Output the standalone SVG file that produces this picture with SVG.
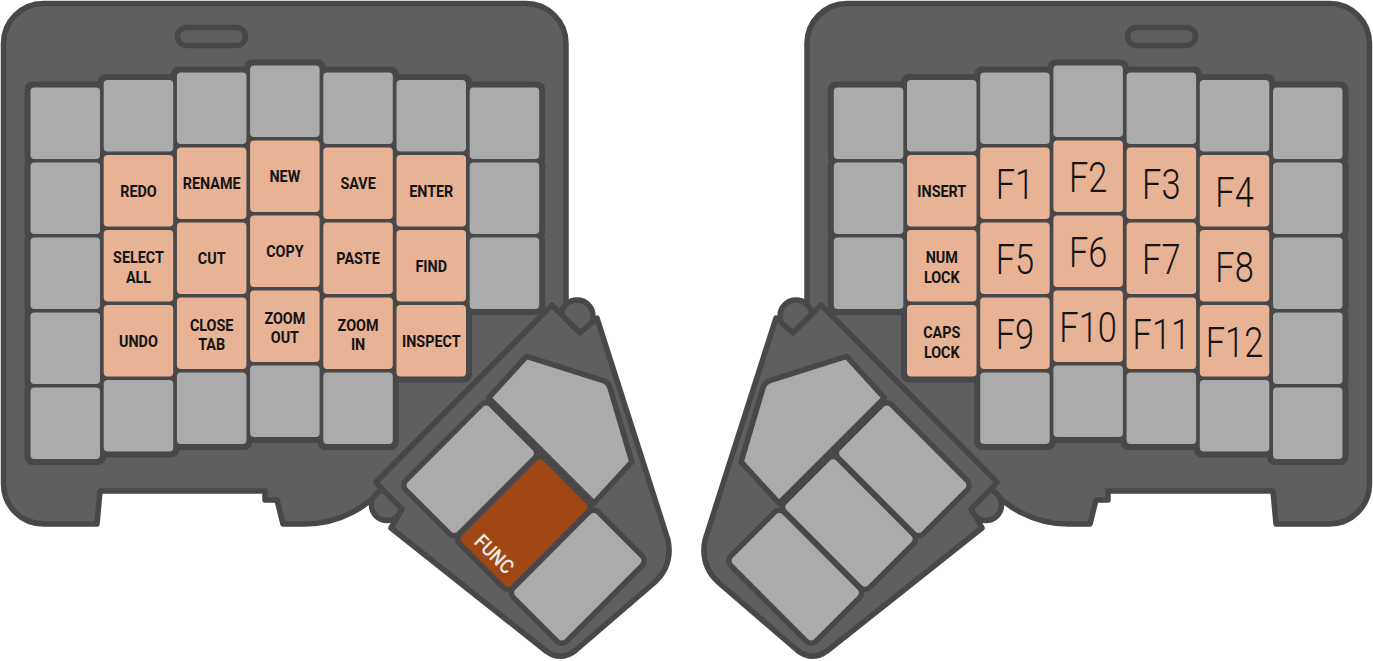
<svg xmlns="http://www.w3.org/2000/svg" xmlns:xlink="http://www.w3.org/1999/xlink" width="1373" height="661" viewBox="0 0 1373 661">
<style>
.case{fill:#5f5f5f;stroke:#484848;stroke-width:5.5;stroke-linejoin:round}
.pl{fill:#484848}
.k{fill:#ababab}
.o{fill:#e8b294}
.tk{fill:#ababab;stroke:#484848;stroke-width:5.5;stroke-linejoin:round}
.fk{fill:#9f4715;stroke:#484848;stroke-width:5.5;stroke-linejoin:round}
.t{font-family:Roboto,'Liberation Sans',sans-serif;font-weight:700;font-size:16.5px;text-anchor:middle;fill:#141414;transform-box:fill-box;transform-origin:center;transform:scaleX(0.87)}
.f{font-family:Roboto,'Liberation Sans',sans-serif;font-weight:300;font-size:42px;text-anchor:middle;fill:#141414;transform-box:fill-box;transform-origin:center;transform:scaleX(0.82)}
.fn{font-family:Roboto,'Liberation Sans',sans-serif;font-weight:500;font-size:20px;text-anchor:middle;fill:#ececec;transform-box:fill-box;transform-origin:center;transform:scaleX(0.9)}
</style>
<rect width="1373" height="661" fill="#ffffff"/>

<g id="left-half">
  <g id="left-case">
    <path class="case" d="M3.5,43.5 A40,40 0 0 1 43.5,3.5 L526,3.5 A40,40 0 0 1 566,43.5 L566,318 L390,479 A103.5,103.5 0 0 1 304.5,524 L283,524 L277,500 L265,500 L265,491 L100,491 L97,524 L43.5,524 A40,40 0 0 1 3.5,484 Z"/>
    <rect class="case" x="177.5" y="27.5" width="68" height="18" rx="9"/>
  </g>
  <g id="left-plate">
    <rect class="pl" x="24.5" y="81.5" width="81.5" height="83.5" rx="8"/>
    <rect class="pl" x="24.5" y="156.5" width="81.5" height="83.5" rx="8"/>
    <rect class="pl" x="24.5" y="231.5" width="81.5" height="83.5" rx="8"/>
    <rect class="pl" x="24.5" y="306.5" width="81.5" height="83.5" rx="8"/>
    <rect class="pl" x="24.5" y="381.5" width="81.5" height="83.5" rx="8"/>
    <rect class="pl" x="97.7" y="74" width="81.5" height="83.5" rx="8"/>
    <rect class="pl" x="97.7" y="149" width="81.5" height="83.5" rx="8"/>
    <rect class="pl" x="97.7" y="224" width="81.5" height="83.5" rx="8"/>
    <rect class="pl" x="97.7" y="299" width="81.5" height="83.5" rx="8"/>
    <rect class="pl" x="97.7" y="374" width="81.5" height="83.5" rx="8"/>
    <rect class="pl" x="170.9" y="66.5" width="81.5" height="83.5" rx="8"/>
    <rect class="pl" x="170.9" y="141.5" width="81.5" height="83.5" rx="8"/>
    <rect class="pl" x="170.9" y="216.5" width="81.5" height="83.5" rx="8"/>
    <rect class="pl" x="170.9" y="291.5" width="81.5" height="83.5" rx="8"/>
    <rect class="pl" x="170.9" y="366.5" width="81.5" height="83.5" rx="8"/>
    <rect class="pl" x="244.1" y="59.5" width="81.5" height="83.5" rx="8"/>
    <rect class="pl" x="244.1" y="134.5" width="81.5" height="83.5" rx="8"/>
    <rect class="pl" x="244.1" y="209.5" width="81.5" height="83.5" rx="8"/>
    <rect class="pl" x="244.1" y="284.5" width="81.5" height="83.5" rx="8"/>
    <rect class="pl" x="244.1" y="359.5" width="81.5" height="83.5" rx="8"/>
    <rect class="pl" x="317.3" y="66.5" width="81.5" height="83.5" rx="8"/>
    <rect class="pl" x="317.3" y="141.5" width="81.5" height="83.5" rx="8"/>
    <rect class="pl" x="317.3" y="216.5" width="81.5" height="83.5" rx="8"/>
    <rect class="pl" x="317.3" y="291.5" width="81.5" height="83.5" rx="8"/>
    <rect class="pl" x="317.3" y="366.5" width="81.5" height="83.5" rx="8"/>
    <rect class="pl" x="390.5" y="74" width="81.5" height="83.5" rx="8"/>
    <rect class="pl" x="390.5" y="149" width="81.5" height="83.5" rx="8"/>
    <rect class="pl" x="390.5" y="224" width="81.5" height="83.5" rx="8"/>
    <rect class="pl" x="390.5" y="299" width="81.5" height="83.5" rx="8"/>
    <rect class="pl" x="463.7" y="81.5" width="81.5" height="83.5" rx="8"/>
    <rect class="pl" x="463.7" y="156.5" width="81.5" height="83.5" rx="8"/>
    <rect class="pl" x="463.7" y="231.5" width="81.5" height="83.5" rx="8"/>
  </g>
  <g id="left-keys">
    <g id="L-c0r0"><rect class="k" x="30.5" y="87.5" width="69.5" height="71.5" rx="4"/></g>
    <g id="L-c0r1"><rect class="k" x="30.5" y="162.5" width="69.5" height="71.5" rx="4"/></g>
    <g id="L-c0r2"><rect class="k" x="30.5" y="237.5" width="69.5" height="71.5" rx="4"/></g>
    <g id="L-c0r3"><rect class="k" x="30.5" y="312.5" width="69.5" height="71.5" rx="4"/></g>
    <g id="L-c0r4"><rect class="k" x="30.5" y="387.5" width="69.5" height="71.5" rx="4"/></g>

    <g id="L-c1r0"><rect class="k" x="103.7" y="80" width="69.5" height="71.5" rx="4"/></g>
    <g id="L-redo"><rect class="o" x="103.7" y="155" width="69.5" height="71.5" rx="4"/><text class="t" x="138.45" y="196.75">REDO</text></g>
    <g id="L-selectall"><rect class="o" x="103.7" y="230" width="69.5" height="71.5" rx="4"/><text class="t" x="138.45" y="263.1">SELECT</text><text class="t" x="138.45" y="282.7">ALL</text></g>
    <g id="L-undo"><rect class="o" x="103.7" y="305" width="69.5" height="71.5" rx="4"/><text class="t" x="138.45" y="346.75">UNDO</text></g>
    <g id="L-c1r4"><rect class="k" x="103.7" y="380" width="69.5" height="71.5" rx="4"/></g>

    <g id="L-c2r0"><rect class="k" x="176.9" y="72.5" width="69.5" height="71.5" rx="4"/></g>
    <g id="L-rename"><rect class="o" x="176.9" y="147.5" width="69.5" height="71.5" rx="4"/><text class="t" x="211.65" y="189.25">RENAME</text></g>
    <g id="L-cut"><rect class="o" x="176.9" y="222.5" width="69.5" height="71.5" rx="4"/><text class="t" x="211.65" y="264.25">CUT</text></g>
    <g id="L-closetab"><rect class="o" x="176.9" y="297.5" width="69.5" height="71.5" rx="4"/><text class="t" x="211.65" y="330.7">CLOSE</text><text class="t" x="211.65" y="350.3">TAB</text></g>
    <g id="L-c2r4"><rect class="k" x="176.9" y="372.5" width="69.5" height="71.5" rx="4"/></g>

    <g id="L-c3r0"><rect class="k" x="250.1" y="65.5" width="69.5" height="71.5" rx="4"/></g>
    <g id="L-new"><rect class="o" x="250.1" y="140.5" width="69.5" height="71.5" rx="4"/><text class="t" x="284.85" y="182.25">NEW</text></g>
    <g id="L-copy"><rect class="o" x="250.1" y="215.5" width="69.5" height="71.5" rx="4"/><text class="t" x="284.85" y="257.25">COPY</text></g>
    <g id="L-zoomout"><rect class="o" x="250.1" y="290.5" width="69.5" height="71.5" rx="4"/><text class="t" x="284.85" y="323.7">ZOOM</text><text class="t" x="284.85" y="343.3">OUT</text></g>
    <g id="L-c3r4"><rect class="k" x="250.1" y="365.5" width="69.5" height="71.5" rx="4"/></g>

    <g id="L-c4r0"><rect class="k" x="323.3" y="72.5" width="69.5" height="71.5" rx="4"/></g>
    <g id="L-save"><rect class="o" x="323.3" y="147.5" width="69.5" height="71.5" rx="4"/><text class="t" x="358.05" y="189.25">SAVE</text></g>
    <g id="L-paste"><rect class="o" x="323.3" y="222.5" width="69.5" height="71.5" rx="4"/><text class="t" x="358.05" y="264.25">PASTE</text></g>
    <g id="L-zoomin"><rect class="o" x="323.3" y="297.5" width="69.5" height="71.5" rx="4"/><text class="t" x="358.05" y="330.7">ZOOM</text><text class="t" x="358.05" y="350.3">IN</text></g>
    <g id="L-c4r4"><rect class="k" x="323.3" y="372.5" width="69.5" height="71.5" rx="4"/></g>

    <g id="L-c5r0"><rect class="k" x="396.5" y="80" width="69.5" height="71.5" rx="4"/></g>
    <g id="L-enter"><rect class="o" x="396.5" y="155" width="69.5" height="71.5" rx="4"/><text class="t" x="431.25" y="196.75">ENTER</text></g>
    <g id="L-find"><rect class="o" x="396.5" y="230" width="69.5" height="71.5" rx="4"/><text class="t" x="431.25" y="271.75">FIND</text></g>
    <g id="L-inspect"><rect class="o" x="396.5" y="305" width="69.5" height="71.5" rx="4"/><text class="t" x="431.25" y="346.75">INSPECT</text></g>

    <g id="L-c6r0"><rect class="k" x="469.7" y="87.5" width="69.5" height="71.5" rx="4"/></g>
    <g id="L-c6r1"><rect class="k" x="469.7" y="162.5" width="69.5" height="71.5" rx="4"/></g>
    <g id="L-c6r2"><rect class="k" x="469.7" y="237.5" width="69.5" height="71.5" rx="4"/></g>
  </g>
  <g id="left-thumb">
    <g id="left-thumb-base">
      <circle class="case" cx="577" cy="316" r="16"/>
      <circle class="case" cx="387" cy="505" r="15.5"/>
      <path class="case" d="M552,305 L376,482 L380,487 L402,509 L391,528 L546,651 Q561,662 576,650 L655,582 Q673,565 668,540 L597,318 L580,333 Z"/>
    </g>
    <g transform="translate(524,523) rotate(45)">
      <g id="LT-big"><path class="tk" d="M-113.5,-63.5 L35.5,-63.5 L33,-119.5 L-34,-156 Q-40,-159.5 -46,-156 L-116,-119.5 Z"/></g>
      <g id="LT-1"><rect class="tk" x="-113.75" y="-60.25" width="75.5" height="120.5" rx="7"/></g>
      <g id="LT-func"><rect class="fk" x="-37.75" y="-60.25" width="75.5" height="120.5" rx="7"/><text class="fn" x="1" y="50">FUNC</text></g>
      <g id="LT-3"><rect class="tk" x="38.25" y="-60.25" width="75.5" height="120.5" rx="7"/></g>
    </g>
  </g>
</g>

<g id="right-half">
  <g id="right-case"><use xlink:href="#left-case" href="#left-case" transform="matrix(-1 0 0 1 1373 0)"/></g>
  <g id="right-plate"><use xlink:href="#left-plate" href="#left-plate" transform="matrix(-1 0 0 1 1373 0)"/></g>
  <g id="right-keys">
    <g id="R-c0r0"><rect class="k" x="833.8" y="87.5" width="69.5" height="71.5" rx="4"/></g>
    <g id="R-c0r1"><rect class="k" x="833.8" y="162.5" width="69.5" height="71.5" rx="4"/></g>
    <g id="R-c0r2"><rect class="k" x="833.8" y="237.5" width="69.5" height="71.5" rx="4"/></g>

    <g id="R-c1r0"><rect class="k" x="907" y="80" width="69.5" height="71.5" rx="4"/></g>
    <g id="R-insert"><rect class="o" x="907" y="155" width="69.5" height="71.5" rx="4"/><text class="t" x="941.75" y="196.75">INSERT</text></g>
    <g id="R-numlock"><rect class="o" x="907" y="230" width="69.5" height="71.5" rx="4"/><text class="t" x="941.75" y="263.1">NUM</text><text class="t" x="941.75" y="282.7">LOCK</text></g>
    <g id="R-capslock"><rect class="o" x="907" y="305" width="69.5" height="71.5" rx="4"/><text class="t" x="941.75" y="338.1">CAPS</text><text class="t" x="941.75" y="357.7">LOCK</text></g>

    <g id="R-c2r0"><rect class="k" x="980.2" y="72.5" width="69.5" height="71.5" rx="4"/></g>
    <g id="R-f1"><rect class="o" x="980.2" y="147.5" width="69.5" height="71.5" rx="4"/><text class="f" x="1014.95" y="199.25">F1</text></g>
    <g id="R-f5"><rect class="o" x="980.2" y="222.5" width="69.5" height="71.5" rx="4"/><text class="f" x="1014.95" y="274.25">F5</text></g>
    <g id="R-f9"><rect class="o" x="980.2" y="297.5" width="69.5" height="71.5" rx="4"/><text class="f" x="1014.95" y="349.25">F9</text></g>
    <g id="R-c2r4"><rect class="k" x="980.2" y="372.5" width="69.5" height="71.5" rx="4"/></g>

    <g id="R-c3r0"><rect class="k" x="1053.4" y="65.5" width="69.5" height="71.5" rx="4"/></g>
    <g id="R-f2"><rect class="o" x="1053.4" y="140.5" width="69.5" height="71.5" rx="4"/><text class="f" x="1088.15" y="192.25">F2</text></g>
    <g id="R-f6"><rect class="o" x="1053.4" y="215.5" width="69.5" height="71.5" rx="4"/><text class="f" x="1088.15" y="267.25">F6</text></g>
    <g id="R-f10"><rect class="o" x="1053.4" y="290.5" width="69.5" height="71.5" rx="4"/><text class="f" x="1088.15" y="342.25">F10</text></g>
    <g id="R-c3r4"><rect class="k" x="1053.4" y="365.5" width="69.5" height="71.5" rx="4"/></g>

    <g id="R-c4r0"><rect class="k" x="1126.6" y="72.5" width="69.5" height="71.5" rx="4"/></g>
    <g id="R-f3"><rect class="o" x="1126.6" y="147.5" width="69.5" height="71.5" rx="4"/><text class="f" x="1161.35" y="199.25">F3</text></g>
    <g id="R-f7"><rect class="o" x="1126.6" y="222.5" width="69.5" height="71.5" rx="4"/><text class="f" x="1161.35" y="274.25">F7</text></g>
    <g id="R-f11"><rect class="o" x="1126.6" y="297.5" width="69.5" height="71.5" rx="4"/><text class="f" x="1161.35" y="349.25">F11</text></g>
    <g id="R-c4r4"><rect class="k" x="1126.6" y="372.5" width="69.5" height="71.5" rx="4"/></g>

    <g id="R-c5r0"><rect class="k" x="1199.8" y="80" width="69.5" height="71.5" rx="4"/></g>
    <g id="R-f4"><rect class="o" x="1199.8" y="155" width="69.5" height="71.5" rx="4"/><text class="f" x="1234.55" y="206.75">F4</text></g>
    <g id="R-f8"><rect class="o" x="1199.8" y="230" width="69.5" height="71.5" rx="4"/><text class="f" x="1234.55" y="281.75">F8</text></g>
    <g id="R-f12"><rect class="o" x="1199.8" y="305" width="69.5" height="71.5" rx="4"/><text class="f" x="1234.55" y="356.75">F12</text></g>
    <g id="R-c5r4"><rect class="k" x="1199.8" y="380" width="69.5" height="71.5" rx="4"/></g>

    <g id="R-c6r0"><rect class="k" x="1273" y="87.5" width="69.5" height="71.5" rx="4"/></g>
    <g id="R-c6r1"><rect class="k" x="1273" y="162.5" width="69.5" height="71.5" rx="4"/></g>
    <g id="R-c6r2"><rect class="k" x="1273" y="237.5" width="69.5" height="71.5" rx="4"/></g>
    <g id="R-c6r3"><rect class="k" x="1273" y="312.5" width="69.5" height="71.5" rx="4"/></g>
    <g id="R-c6r4"><rect class="k" x="1273" y="387.5" width="69.5" height="71.5" rx="4"/></g>
  </g>
  <g id="right-thumb" transform="matrix(-1 0 0 1 1373 0)">
    <use xlink:href="#left-thumb-base" href="#left-thumb-base"/>
    <g transform="translate(524,523) rotate(45)">
      <g id="RT-big"><path class="tk" d="M-113.5,-63.5 L35.5,-63.5 L33,-119.5 L-34,-156 Q-40,-159.5 -46,-156 L-116,-119.5 Z"/></g>
      <g id="RT-1"><rect class="tk" x="-113.75" y="-60.25" width="75.5" height="120.5" rx="7"/></g>
      <g id="RT-2"><rect class="tk" x="-37.75" y="-60.25" width="75.5" height="120.5" rx="7"/></g>
      <g id="RT-3"><rect class="tk" x="38.25" y="-60.25" width="75.5" height="120.5" rx="7"/></g>
    </g>
  </g>
</g>
</svg>
